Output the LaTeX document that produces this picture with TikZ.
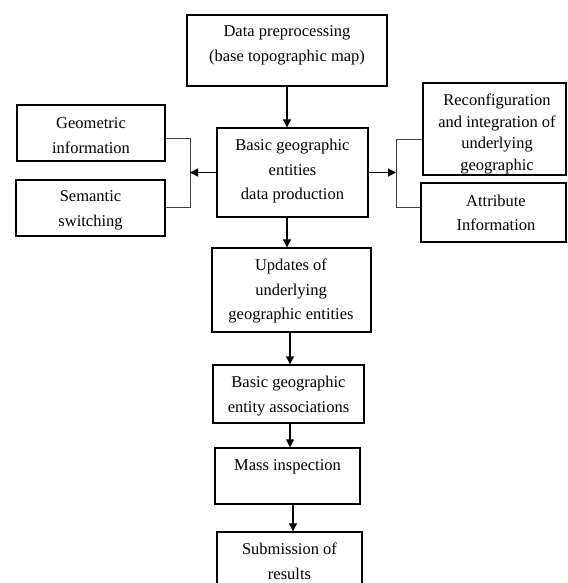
\documentclass[tikz,border=0pt]{standalone}
\usepackage{fontspec}
\setmainfont{Liberation Serif}
\usetikzlibrary{arrows.meta}
\begin{document}
\begin{tikzpicture}[x=1pt,y=-1pt,
  box/.style={draw=black,line width=1.4pt,inner sep=0pt},
  txt/.style={align=center,inner sep=0pt,font=\fontsize{16.5}{24.5}\selectfont},
  arr/.style={line width=1.1pt,-{Triangle[length=8pt,width=8pt]}},
  brk/.style={line width=1pt,draw=black!75}]
\useasboundingbox (0,0) rectangle (567,583);
\clip (0,0) rectangle (567,583);
% boxes
\node[box,minimum width=200pt,minimum height=71pt] (pre) at (287,50.5) {};
\node[txt] (tpre) at (287,45.5) {Data preprocessing\\(base topographic map)};
\node[box,minimum width=148pt,minimum height=56pt] (geo) at (91,133) {};
\node[txt] (tgeo) at (91,135.5) {Geometric\\information};
\node[box,minimum width=149pt,minimum height=56pt] (sem) at (90.5,208) {};
\node[txt] (tsem) at (90.5,210.5) {Semantic\\switching};
\node[box,minimum width=151pt,minimum height=89pt] (cen) at (292.5,172.5) {};
\node[txt] (tcen) at (292.5,171.5) {Basic geographic\\entities\\data production};
\node[txt,font=\fontsize{16.5}{21.5}\selectfont] (trec) at (497,134) {Reconfiguration\\and integration of\\underlying\\geographic};
\fill[white] (424,175) rectangle (565,182);
\node[box,minimum width=143pt,minimum height=92pt] (rec) at (494.5,129) {};
\node[box,minimum width=145pt,minimum height=59pt] (att) at (493.5,212.5) {};
\node[txt] (tatt) at (496,213) {Attribute\\Information};
\node[box,minimum width=159pt,minimum height=84pt] (upd) at (291.5,290) {};
\node[txt] (tupd) at (291,291) {Updates of\\underlying\\geographic entities};
\node[box,minimum width=151pt,minimum height=58pt] (asc) at (288.5,394) {};
\node[txt] (tasc) at (288.5,396) {Basic geographic\\entity associations};
\node[box,minimum width=145pt,minimum height=56pt] (mas) at (287.5,476) {};
\node[txt] (tmas) at (287.5,467) {Mass inspection};
\node[box,minimum width=145pt,minimum height=70pt] (sub) at (289.5,567) {};
\node[txt] (tsub) at (289.5,561.5) {Submission of\\results};
% vertical arrows
\draw[arr] (287,0 |- pre.south) -- (287,0 |- cen.north);
\draw[arr] (287,0 |- cen.south) -- (287,0 |- upd.north);
\draw[arr] (290,0 |- upd.south) -- (290,0 |- asc.north);
\draw[arr] (290,0 |- asc.south) -- (290,0 |- mas.north);
\draw[arr] (293,0 |- mas.south) -- (293,0 |- sub.north);
% left bracket
\coordinate (lt) at (190,138);
\coordinate (lb) at (190,207);
\coordinate (lj) at (190,172.5);
\draw[brk] (geo.east |- lt) -- (lt) -- (lb) -- (sem.east |- lb);
\draw[arr] (cen.west) -- (lj);
% right bracket
\coordinate (rt) at (396,139);
\coordinate (rb) at (396,207);
\coordinate (rj) at (396,172.5);
\draw[brk] (rec.west |- rt) -- (rt) -- (rb) -- (att.west |- rb);
\draw[arr] (cen.east) -- (rj);
\end{tikzpicture}
\end{document}
